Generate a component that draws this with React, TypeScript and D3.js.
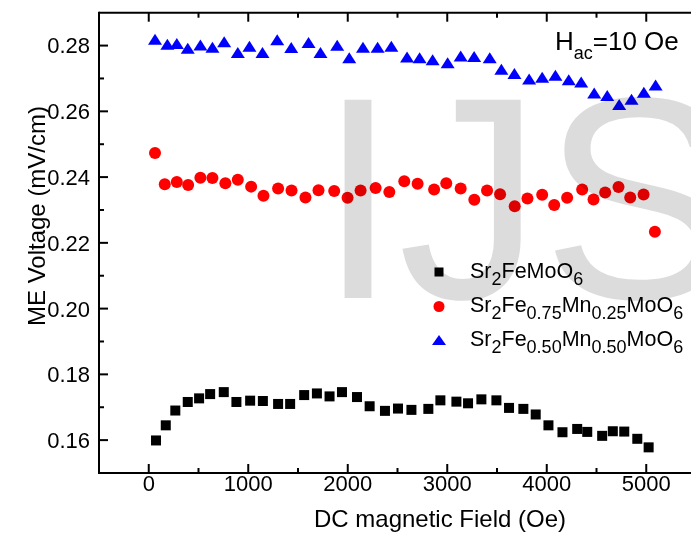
import React from 'react';
import * as d3 from 'd3';

// field values (Oe) and ME voltage (mV/cm)
const blackField = [73, 171, 267, 392, 506, 617, 754, 881, 1019, 1147, 1300, 1421, 1562, 1690, 1817, 1942, 2093, 2220, 2374, 2505, 2640, 2810, 2931, 3092, 3209, 3343, 3494, 3621, 3765, 3889, 4017, 4158, 4306, 4407, 4557, 4664, 4779, 4910, 5024];
const blackME = [0.1599, 0.1645, 0.1690, 0.1716, 0.1727, 0.1740, 0.1746, 0.1716, 0.1720, 0.1719, 0.1710, 0.1710, 0.1737, 0.1742, 0.1733, 0.1746, 0.1731, 0.1703, 0.1689, 0.1696, 0.1692, 0.1695, 0.1721, 0.1717, 0.1712, 0.1724, 0.1721, 0.1698, 0.1695, 0.1678, 0.1645, 0.1624, 0.1634, 0.1625, 0.1613, 0.1627, 0.1626, 0.1604, 0.1578];

const redField = [63, 161, 282, 396, 519, 640, 770, 895, 1029, 1153, 1300, 1435, 1575, 1706, 1864, 1998, 2129, 2280, 2418, 2568, 2702, 2868, 2990, 3135, 3272, 3400, 3531, 3678, 3806, 3954, 4075, 4205, 4356, 4470, 4587, 4721, 4839, 4973, 5087];
const redME = [0.2473, 0.2378, 0.2385, 0.2376, 0.2398, 0.2397, 0.2381, 0.2392, 0.2371, 0.2343, 0.2365, 0.2359, 0.2338, 0.2360, 0.2358, 0.2337, 0.2359, 0.2367, 0.2355, 0.2387, 0.2380, 0.2362, 0.2381, 0.2365, 0.2331, 0.2359, 0.2348, 0.2311, 0.2335, 0.2346, 0.2315, 0.2337, 0.2362, 0.2332, 0.2353, 0.2370, 0.2338, 0.2347, 0.2234];

const blueField = [63, 187, 282, 392, 519, 640, 758, 895, 1012, 1143, 1291, 1432, 1606, 1726, 1894, 2015, 2153, 2300, 2438, 2596, 2722, 2853, 3004, 3135, 3270, 3427, 3544, 3675, 3823, 3954, 4087, 4221, 4346, 4477, 4608, 4728, 4852, 4976, 5094];
const blueME = [0.2819, 0.2804, 0.2806, 0.2792, 0.2802, 0.2795, 0.2812, 0.2779, 0.2798, 0.2779, 0.2818, 0.2794, 0.2809, 0.2779, 0.2801, 0.2763, 0.2795, 0.2795, 0.2798, 0.2765, 0.2763, 0.2757, 0.2748, 0.2768, 0.2767, 0.2763, 0.2728, 0.2715, 0.2698, 0.2704, 0.2710, 0.2696, 0.2689, 0.2656, 0.2648, 0.2621, 0.2637, 0.2658, 0.2680];

const xMajor = [0, 1000, 2000, 3000, 4000, 5000];
const xMinor = [500, 1500, 2500, 3500, 4500, 5500];
const yMajor = [0.16, 0.18, 0.20, 0.22, 0.24, 0.26, 0.28];
const yMinor = [0.17, 0.19, 0.21, 0.23, 0.25, 0.27];

const FONT = '"Liberation Sans", Arial, sans-serif';
const W = 691, H = 533;
const SUB = 18, SHIFT = 7;

const tri = (w: number, h: number) => `M0,${-h / 2}L${w / 2},${h / 2}L${-w / 2},${h / 2}Z`;

// chemical formula: pairs of [normal, subscript]
function Formula({ parts, x, y }: { parts: [string, string][]; x: number; y: number }) {
  return (
    <text x={x} y={y}>
      {parts.map(([n, s], i) => (
        <React.Fragment key={i}>
          <tspan dy={i === 0 ? 0 : -SHIFT}>{n}</tspan>
          <tspan fontSize={SUB} dy={SHIFT}>{s}</tspan>
        </React.Fragment>
      ))}
    </text>
  );
}

export default function App() {
  const x = d3.scaleLinear().domain([-500, 5500]).range([99, 696]);
  const y = d3.scaleLinear().domain([0.15, 0.29]).range([473, 12.7]);
  const left = x(-500), bottom = y(0.15), top = y(0.29);

  return (
    <svg width={W} height={H} style={{ position: 'absolute', left: 0, top: 0, background: '#fff' }}
      fontFamily={FONT}>
      {/* data */}
      <g>
        {blackField.map((f, i) => (
          <rect key={'k' + i} x={x(f) - 5} y={y(blackME[i]) - 5} width={10} height={10} fill="#000" />
        ))}
        {redField.map((f, i) => (
          <circle key={'r' + i} cx={x(f)} cy={y(redME[i])} r={6} fill="#ff0000" />
        ))}
        {blueField.map((f, i) => (
          <path key={'b' + i} d={tri(14, 11)} transform={`translate(${x(f)},${y(blueME[i])})`} fill="#0000ff" />
        ))}
      </g>

      {/* watermark */}
      <text x={318} y={298} fontSize={288} fill="#dcdcdc" style={{ mixBlendMode: 'multiply' }}>IJS</text>

      {/* axes */}
      <g stroke="#000" strokeWidth={2} fill="none">
        <line x1={left} x2={W} y1={bottom} y2={bottom} />
        <line x1={left} x2={W} y1={top} y2={top} />
        <line x1={left} x2={left} y1={top - 1} y2={bottom + 1} />
        {xMajor.map(v => (
          <g key={'xm' + v}>
            <line x1={x(v)} x2={x(v)} y1={bottom} y2={bottom - 9} />
            <line x1={x(v)} x2={x(v)} y1={top} y2={top + 9} />
          </g>
        ))}
        {xMinor.map(v => (
          <g key={'xn' + v}>
            <line x1={x(v)} x2={x(v)} y1={bottom} y2={bottom - 5} />
            <line x1={x(v)} x2={x(v)} y1={top} y2={top + 5} />
          </g>
        ))}
        {yMajor.map(v => <line key={'ym' + v} x1={left} x2={left + 9} y1={y(v)} y2={y(v)} />)}
        {yMinor.map(v => <line key={'yn' + v} x1={left} x2={left + 5} y1={y(v)} y2={y(v)} />)}
      </g>

      {/* tick labels */}
      <g fontSize={22} fill="#000">
        {xMajor.map(v => (
          <text key={'xl' + v} x={x(v)} y={491} textAnchor="middle">{v}</text>
        ))}
        {yMajor.map(v => (
          <text key={'yl' + v} x={90} y={y(v)} dy="0.36em" textAnchor="end">{d3.format('.2f')(v)}</text>
        ))}
      </g>

      {/* axis titles */}
      <text x={440} y={527} fontSize={24} textAnchor="middle">DC magnetic Field (Oe)</text>
      <text transform="translate(45,216) rotate(-90)" fontSize={24} textAnchor="middle">ME Voltage (mV/cm)</text>

      {/* annotation */}
      <text x={555} y={50} fontSize={26}>
        H<tspan fontSize={18} dy={9}>ac</tspan><tspan dy={-9}>=10 Oe</tspan>
      </text>

      {/* legend */}
      <g fontSize={21.5}>
        <rect x={434.5} y={267.5} width={9} height={9} fill="#000" />
        <Formula x={470} y={278} parts={[['Sr', '2'], ['FeMoO', '6']]} />
        <circle cx={439} cy={306.5} r={5.5} fill="#ff0000" />
        <Formula x={470} y={312} parts={[['Sr', '2'], ['Fe', '0.75'], ['Mn', '0.25'], ['MoO', '6']]} />
        <path d={tri(14, 10)} transform="translate(439,340)" fill="#0000ff" />
        <Formula x={470} y={346} parts={[['Sr', '2'], ['Fe', '0.50'], ['Mn', '0.50'], ['MoO', '6']]} />
      </g>
    </svg>
  );
}
